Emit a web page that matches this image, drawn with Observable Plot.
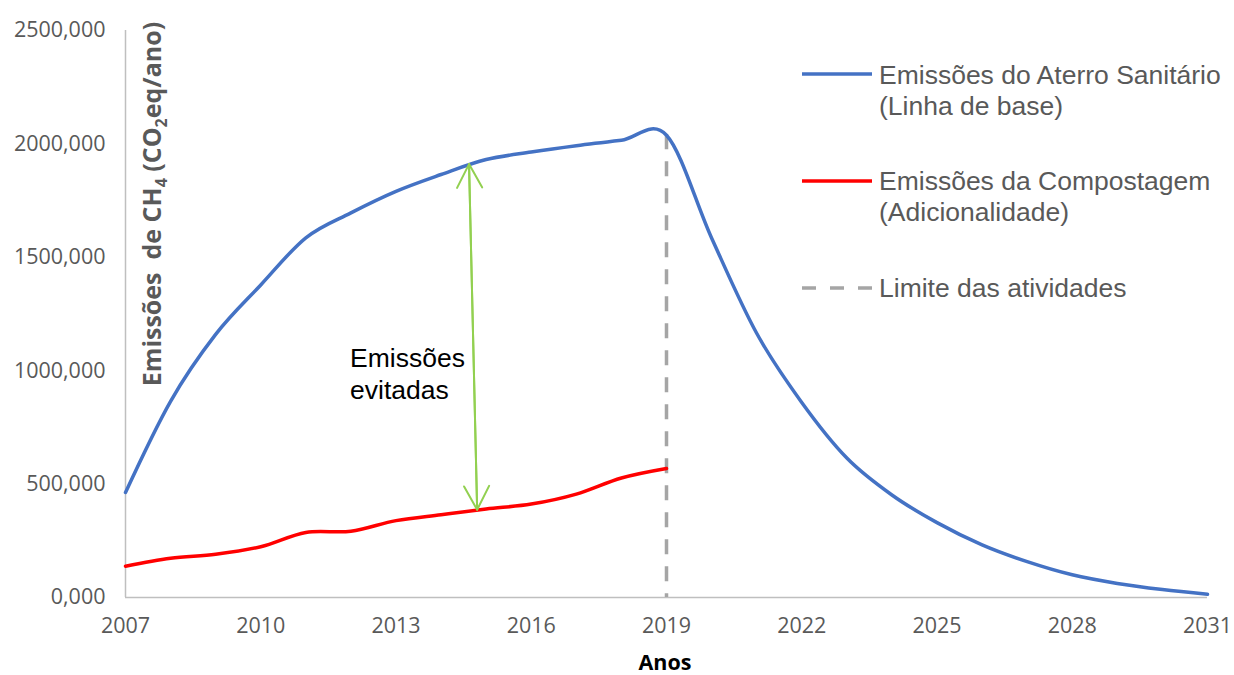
<!DOCTYPE html>
<html>
<head>
<meta charset="utf-8">
<script src="https://cdn.jsdelivr.net/npm/d3@7"></script>
<script src="https://cdn.jsdelivr.net/npm/@observablehq/plot@0.6"></script>
<style>
  html, body { margin: 0; padding: 0; background: #fff; }
  #chart { width: 1234px; height: 675px; }
</style>
</head>
<body>
<div id="chart"></div>
<script>
// ---- Data ----
const years = [2007, 2008, 2009, 2010, 2011, 2012, 2013, 2014, 2015, 2016, 2017, 2018, 2019,
               2020, 2021, 2022, 2023, 2024, 2025, 2026, 2027, 2028, 2029, 2030, 2031];
const aterroSanitario = [463, 865, 1160, 1378, 1586, 1696, 1791, 1865, 1931, 1964, 1992, 2016, 2038,
                         1585, 1165, 860, 615, 452, 330, 232, 158, 100, 62, 35, 14];
const compostagemYears = [2007, 2008, 2009, 2010, 2011, 2012, 2013, 2014, 2015, 2016, 2017, 2018, 2019];
const compostagem = [138, 173, 191, 224, 287, 292, 339, 365, 390, 412, 456, 527, 569];
const limiteYear = [2019];
const limiteTop = [2040];
const arrowYears = [2014.62, 2014.80];   // top, bottom
const arrowValues = [1911, 387];         // top, bottom
const annotationText = ["Emissões\nevitadas"];
const annotationYear = [2011.98];
const annotationValue = [990];
const xTicks = [2007, 2010, 2013, 2016, 2019, 2022, 2025, 2028, 2031];
const yTicks = [0, 500, 1000, 1500, 2000, 2500];
const yTickLabels = ["0,000", "500,000", "1000,000", "1500,000", "2000,000", "2500,000"];
const legendLabels = [
  ["Emissões do Aterro Sanitário", "(Linha de base)"],
  ["Emissões da Compostagem", "(Adicionalidade)"],
  ["Limite das atividades"]
];
const xTitle = "Anos";

// ---- Tables built from the arrays ----
const aterroData = years.map((x, i) => ({x, y: aterroSanitario[i]}));
const compData = compostagemYears.map((x, i) => ({x, y: compostagem[i]}));
const arrowData = [
  {x1: arrowYears[1], y1: arrowValues[1], x2: arrowYears[0], y2: arrowValues[0]},
  {x1: arrowYears[0], y1: arrowValues[0], x2: arrowYears[1], y2: arrowValues[1]}
];
const annData = annotationText.map((t, i) => ({t, x: annotationYear[i], y: annotationValue[i]}));

const BLUE = "#4472C4", RED = "#FF0000", GRAY = "#A5A5A5", GREEN = "#92D050";

const chart = Plot.plot({
  width: 1234,
  height: 675,
  marginLeft: 125,
  marginRight: 27,
  marginTop: 30,
  marginBottom: 78,
  style: {
    fontFamily: "'Open Sans', sans-serif",
    fontSize: "21.5px",
    color: "#595959",
    background: "#fff",
    overflow: "visible"
  },
  x: {domain: [2007, 2031], ticks: xTicks, tickFormat: d => String(d), label: null, tickSize: 0, tickPadding: 20},
  y: {domain: [0, 2500], ticks: yTicks, tickFormat: (d, i) => yTickLabels[yTicks.indexOf(d)], label: null, tickSize: 0, tickPadding: 20},
  marks: [
    Plot.ruleX([2007], {stroke: "#BFBFBF", strokeWidth: 1.5}),
    Plot.ruleY([0], {stroke: "#BFBFBF", strokeWidth: 1.5}),
    Plot.ruleX(limiteYear, {x: d => d, y1: limiteTop[0], y2: 0, stroke: GRAY, strokeWidth: 3.5, strokeDasharray: "15,12"}),
    Plot.line(aterroData, {x: "x", y: "y", stroke: BLUE, strokeWidth: 3.5, curve: "cardinal", tension: 0}),
    Plot.line(compData, {x: "x", y: "y", stroke: RED, strokeWidth: 3.5, curve: "cardinal", tension: 0}),
    Plot.arrow(arrowData, {x1: "x1", y1: "y1", x2: "x2", y2: "y2", stroke: GREEN, strokeWidth: 2, headLength: 20, headAngle: 56}),
    Plot.text(annData, {x: "x", y: "y", text: "t", textAnchor: "start", lineAnchor: "middle", lineHeight: 1.2,
      fill: "#000", fontSize: 26.5, fontFamily: "'Liberation Sans', Arial, sans-serif"})
  ]
});

document.getElementById("chart").appendChild(chart);

// ---- Axis titles and legend ----
const svg = d3.select(chart);

// y-axis title (rotated, with subscripts)
const yt = svg.append("text")
  .attr("transform", "translate(161,204) rotate(-90)")
  .attr("text-anchor", "middle")
  .attr("fill", "#595959")
  .attr("font-family", "'Open Sans', sans-serif")
  .attr("font-weight", "bold")
  .attr("font-size", 25);
yt.append("tspan").text("Emissões\u00A0 de CH");
yt.append("tspan").attr("font-size", 16).attr("dy", 6).text("4");
yt.append("tspan").attr("dy", -6).text(" (CO");
yt.append("tspan").attr("font-size", 16).attr("dy", 6).text("2");
yt.append("tspan").attr("dy", -6).text("eq/ano)");

// x-axis title
svg.append("text")
  .attr("x", 665).attr("y", 670)
  .attr("text-anchor", "middle")
  .attr("fill", "#000")
  .attr("font-family", "'Open Sans', sans-serif")
  .attr("font-weight", "bold")
  .attr("font-size", 21.5)
  .text(xTitle);

// legend
const legendItems = [
  {color: BLUE, dash: null, y: 74, lines: legendLabels[0], base: 84},
  {color: RED, dash: null, y: 181, lines: legendLabels[1], base: 190},
  {color: GRAY, dash: "14,14", y: 288, lines: legendLabels[2], base: 297}
];
const lg = svg.append("g").attr("text-anchor", "start");
legendItems.forEach(it => {
  lg.append("line")
    .attr("x1", 802).attr("x2", 872).attr("y1", it.y).attr("y2", it.y)
    .attr("stroke", it.color).attr("stroke-width", 3.5)
    .attr("stroke-dasharray", it.dash);
  it.lines.forEach((t, j) => {
    lg.append("text")
      .attr("x", 879).attr("y", it.base + j * 31)
      .attr("text-anchor", "start")
      .attr("fill", "#595959")
      .attr("font-family", "'Liberation Sans', Arial, sans-serif")
      .attr("font-size", 26.5)
      .text(t);
  });
});
</script>
</body>
</html>
